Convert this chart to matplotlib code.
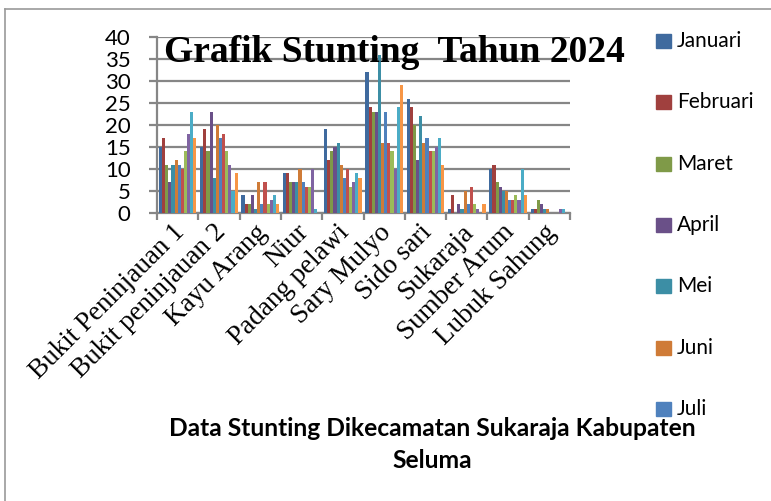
import numpy as np
import matplotlib.pyplot as plt
import matplotlib.transforms as mtransforms
from matplotlib.lines import Line2D
from matplotlib.patches import Rectangle

desa = ["Bukit Peninjauan 1", "Bukit peninjauan 2", "Kayu Arang", "Niur",
        "Padang pelawi", "Sary Mulyo", "Sido sari", "Sukaraja",
        "Sumber Arum", "Lubuk Sahung"]
bulan = ["Januari", "Februari", "Maret", "April", "Mei", "Juni", "Juli",
         "Agustus", "September", "Oktober", "November", "Desember"]

# values per month, one entry per village
januari = [15, 15, 4, 9, 19, 32, 26, 1, 10, 1]
februari = [17, 19, 2, 9, 12, 24, 24, 4, 11, 1]
maret = [11, 14, 2, 7, 14, 23, 20, 0, 7, 3]
april = [7, 23, 4, 7, 15, 23, 12, 2, 6, 2]
mei = [11, 8, 1, 7, 16, 36, 22, 1, 5, 1]
juni = [12, 20, 7, 10, 11, 16, 16, 5, 5, 1]
juli = [11, 17, 2, 7, 8, 23, 17, 2, 3, 0]
agustus = [10, 18, 7, 6, 10, 16, 14, 6, 3, 0]
september = [14, 14, 2, 6, 6, 14, 14, 2, 4, 0]
oktober = [18, 11, 3, 10, 7, 10, 15, 1, 3, 1]
november = [23, 5, 4, 1, 9, 24, 17, 0, 10, 1]
desember = [17, 9, 2, 0, 8, 29, 11, 2, 4, 0]

data = [januari, februari, maret, april, mei, juni, juli,
        agustus, september, oktober, november, desember]

colors = ['#3F6A9E', '#A0403E', '#7F9A48', '#6A5088', '#3C8EA5', '#CF7B37',
          '#4F81BD', '#C0504D', '#9BBB59', '#8064A2', '#4BACC6', '#F79646']

fig = plt.figure(figsize=(7.71, 5.01), dpi=100)
ax = fig.add_axes([157/771, 1-213/501, 413/771, 176/501])

x = np.arange(len(desa))
n = len(data)
group = 0.908
w = group / n
for i, vals in enumerate(data):
    ax.bar(x - group/2 + w*(i + 0.5), vals, width=w, color=colors[i],
           linewidth=0, zorder=3, label=bulan[i])

ax.set_xlim(-0.5, len(desa) - 0.5)
ax.set_ylim(0, 40)
ax.set_yticks(range(0, 41, 5))
ax.yaxis.grid(True, color='#868686', linewidth=1.6, zorder=0)
for s in ['top', 'right']:
    ax.spines[s].set_visible(False)
for s in ['left', 'bottom']:
    ax.spines[s].set_color('#868686')
    ax.spines[s].set_linewidth(1.6)
ax.tick_params(axis='y', length=6, width=1.6, color='#868686', pad=13,
               labelsize=16)
for lab in ax.get_yticklabels():
    lab.set_family('Lato')

ax.set_xticks(x)
ax.set_xticks(np.arange(-0.5, len(desa)), minor=True)
ax.tick_params(axis='x', which='major', length=0, pad=5)
ax.tick_params(axis='x', which='minor', length=5, width=1.6, color='#868686')
ax.set_xticklabels(desa, rotation=45, ha='right', va='top',
                   rotation_mode='anchor', family='Liberation Serif',
                   fontsize=19.5)
shift = mtransforms.ScaledTranslation(-6/100, 0, fig.dpi_scale_trans)
for lab in ax.get_xticklabels():
    lab.set_transform(lab.get_transform() + shift)

fig.text(394/771, 1-52/501, "Grafik Stunting  Tahun 2024", ha='center',
         va='center', family='Liberation Serif', fontweight='bold',
         fontsize=27)

fig.text(432/771, 1-428/501, "Data Stunting Dikecamatan Sukaraja Kabupaten",
         ha='center', va='center', family='Lato', fontweight='bold',
         fontsize=17.7)
fig.text(432/771, 1-461/501, "Seluma", ha='center', va='center',
         family='Lato', fontweight='bold', fontsize=17.7)

# legend: only the first seven entries are visible
for i in range(7):
    yy = 1 - (41 + i*61.3)/501
    fig.patches.append(Rectangle((656/771, yy - 7/501), 15/771, 14/501,
                                 transform=fig.transFigure,
                                 color=colors[i], zorder=5))
    fig.text(677/771, yy, bulan[i], ha='left', va='center', family='Lato',
             fontsize=15, zorder=6)

# chart area frame
fig.lines.append(Line2D([5/771, 5/771], [0, 1-9/501], transform=fig.transFigure,
                        color='#9A9A9A', linewidth=1.2))
fig.lines.append(Line2D([5/771, 1], [1-9/501, 1-9/501], transform=fig.transFigure,
                        color='#9A9A9A', linewidth=1.2))

fig.savefig("out.png", dpi=100)
